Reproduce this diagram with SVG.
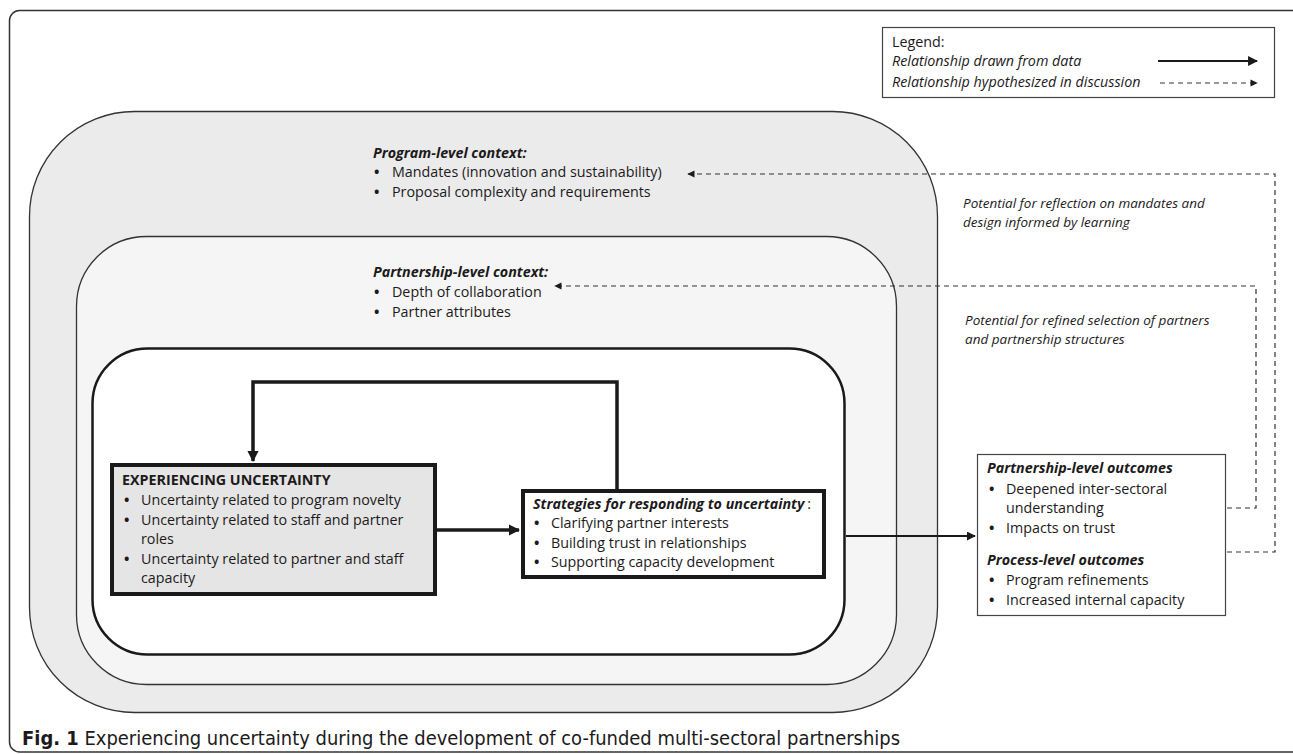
<svg xmlns="http://www.w3.org/2000/svg" width="1293" height="754" viewBox="0 0 1293 754">
<style>
text{font-family:"Open Sans","Liberation Sans",sans-serif;fill:#1c1a1b;font-size:14.3px}
.bi{font-weight:bold;font-style:italic}
.it{font-style:italic}
.b{font-weight:bold}
.sm{font-size:13.5px}
.bul{font-weight:bold}
.dash{fill:none;stroke:#333;stroke-width:1.2;stroke-dasharray:5 4}
.thick{fill:none;stroke:#1a1a1a;stroke-width:3.5}
.cap{font-family:"DejaVu Sans Condensed","DejaVu Sans",sans-serif;font-size:20px}
</style>
<defs>
<marker id="ah" viewBox="0 0 10 10" refX="9" refY="5" markerWidth="3.2" markerHeight="3.2" orient="auto" markerUnits="strokeWidth"><path d="M0,0 L10,5 L0,10 z" fill="#1a1a1a"/></marker>
<marker id="ah2" viewBox="0 0 10 10" refX="9" refY="5" markerWidth="4.5" markerHeight="4.5" orient="auto" markerUnits="strokeWidth"><path d="M0,0 L10,5 L0,10 z" fill="#1a1a1a"/></marker>
<marker id="ahd" viewBox="0 0 10 10" refX="9" refY="5" markerWidth="7" markerHeight="6" orient="auto" markerUnits="strokeWidth"><path d="M0,0 L10,5 L0,10 z" fill="#1a1a1a"/></marker>
</defs>
<rect id="frame" x="9.5" y="10.5" width="1295" height="741.5" rx="10" fill="#fff" stroke="#333" stroke-width="1.5"/>
<g id="legend">
<rect x="882.5" y="27.5" width="392" height="70" fill="#fff" stroke="#444" stroke-width="1.2"/>
<text x="892" y="47">Legend:</text>
<text class="it" x="892" y="66">Relationship drawn from data</text>
<text class="it" x="892" y="87">Relationship hypothesized in discussion</text>
<line x1="1158" y1="61" x2="1257" y2="61" stroke="#1a1a1a" stroke-width="2.2" marker-end="url(#ah2)"/>
<line x1="1160" y1="83" x2="1257" y2="83" class="dash" marker-end="url(#ahd)"/>
</g>
<g id="program-context">
<rect x="29.5" y="111.5" width="908" height="601" rx="105" fill="#ebebeb" stroke="#333" stroke-width="1.3"/>
<text class="bi" x="373" y="158">Program-level context:</text>
<text class="bul" x="374" y="177">•</text><text x="392" y="177">Mandates (innovation and sustainability)</text>
<text class="bul" x="374" y="197">•</text><text x="392" y="197">Proposal complexity and requirements</text>
</g>
<g id="partnership-context">
<rect x="76.5" y="236.5" width="820" height="448" rx="70" fill="#f5f5f5" stroke="#333" stroke-width="1.3"/>
<text class="bi" x="373" y="277">Partnership-level context:</text>
<text class="bul" x="374" y="297">•</text><text x="392" y="297">Depth of collaboration</text>
<text class="bul" x="374" y="317">•</text><text x="392" y="317">Partner attributes</text>
</g>
<g id="inner-container">
<rect x="92.5" y="348.5" width="752" height="306" rx="55" fill="#fff" stroke="#1a1a1a" stroke-width="2.5"/>
</g>
<g id="experiencing">
<rect x="112" y="465" width="323" height="129" fill="#e5e5e5" stroke="#1a1a1a" stroke-width="4"/>
<text class="b" x="122" y="485">EXPERIENCING UNCERTAINTY</text>
<text class="bul" x="124" y="505">•</text><text x="141" y="505">Uncertainty related to program novelty</text>
<text class="bul" x="124" y="525">•</text><text x="141" y="525">Uncertainty related to staff and partner</text>
<text x="141" y="544">roles</text>
<text class="bul" x="124" y="564">•</text><text x="141" y="564">Uncertainty related to partner and staff</text>
<text x="141" y="583">capacity</text>
</g>
<g id="strategies">
<rect x="523" y="491" width="301" height="86" fill="#fff" stroke="#1a1a1a" stroke-width="4"/>
<text x="533" y="509"><tspan class="bi">Strategies for responding to uncertainty</tspan><tspan dx="3">:</tspan></text>
<text class="bul" x="534" y="528">•</text><text x="551" y="528">Clarifying partner interests</text>
<text class="bul" x="534" y="548">•</text><text x="551" y="548">Building trust in relationships</text>
<text class="bul" x="534" y="567">•</text><text x="551" y="567">Supporting capacity development</text>
</g>
<g id="outcomes">
<rect x="977.5" y="454.5" width="248" height="161" fill="#fff" stroke="#444" stroke-width="1.2"/>
<text class="bi" x="987" y="473">Partnership-level outcomes</text>
<text class="bul" x="989" y="494">•</text><text x="1006" y="494">Deepened inter-sectoral</text>
<text x="1006" y="513">understanding</text>
<text class="bul" x="989" y="533">•</text><text x="1006" y="533">Impacts on trust</text>
<text class="bi" x="987" y="565">Process-level outcomes</text>
<text class="bul" x="989" y="585">•</text><text x="1006" y="585">Program refinements</text>
<text class="bul" x="989" y="605">•</text><text x="1006" y="605">Increased internal capacity</text>
</g>
<g id="feedback-labels">
<text class="it sm" x="963" y="208">Potential for reflection on mandates and</text>
<text class="it sm" x="963" y="227">design informed by learning</text>
<text class="it sm" x="965" y="325">Potential for refined selection of partners</text>
<text class="it sm" x="965" y="344">and partnership structures</text>
</g>
<g id="connectors">
<path class="thick" d="M617,489 V382 H253 V461" marker-end="url(#ah)"/>
<path class="thick" d="M437,530 H519" marker-end="url(#ah)"/>
<path d="M846,536 H975" fill="none" stroke="#1a1a1a" stroke-width="2" marker-end="url(#ah2)"/>
<path class="dash" d="M1227,552 H1275 V174 H688" marker-end="url(#ahd)"/>
<path class="dash" d="M1227,508 H1256 V286 H555" marker-end="url(#ahd)"/>
</g>
<g id="caption">
<text class="cap" x="22" y="745" textLength="878" lengthAdjust="spacingAndGlyphs"><tspan class="b">Fig. 1</tspan> Experiencing uncertainty during the development of co-funded multi-sectoral partnerships</text>
</g>
</svg>
